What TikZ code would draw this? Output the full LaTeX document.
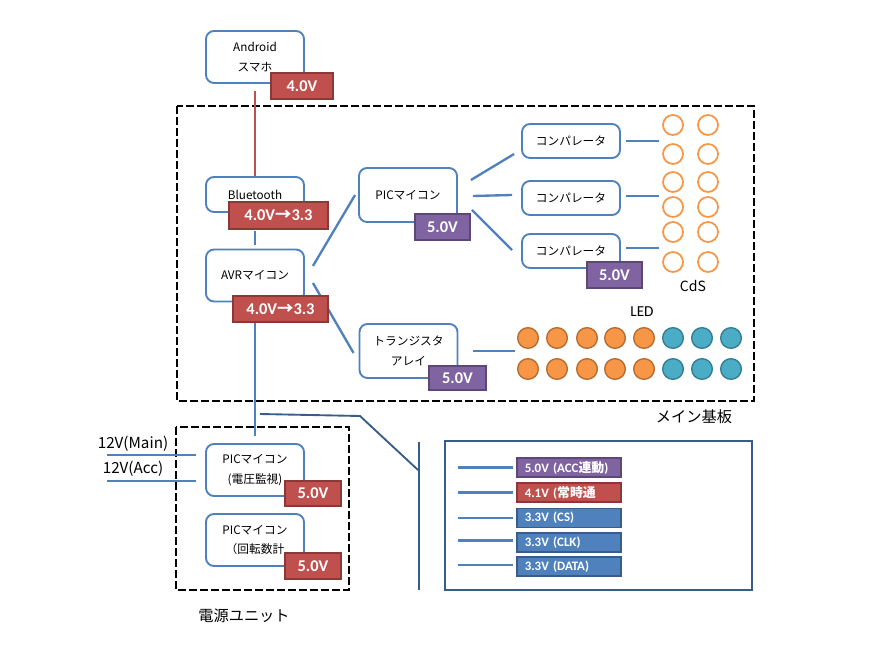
\documentclass[tikz,border=0pt]{standalone}
\usepackage{fontspec}
\setmainfont{Carlito}
\newfontfamily\jp{Noto Sans CJK JP}
\definecolor{boxblue}{RGB}{79,129,189}
\definecolor{darkblue}{RGB}{56,93,138}
\definecolor{vred}{RGB}{192,80,77}
\definecolor{vredline}{RGB}{140,56,54}
\definecolor{vpurple}{RGB}{128,100,162}
\definecolor{vpurpleline}{RGB}{92,71,118}
\definecolor{ledorange}{RGB}{247,150,70}
\definecolor{ledorangeline}{RGB}{182,109,49}
\definecolor{ledblue}{RGB}{75,172,198}
\definecolor{ledblueline}{RGB}{53,125,145}

\begin{document}
\begin{tikzpicture}[x=0.3mm,y=-0.3mm,inner sep=0pt]
\tikzstyle{box}=[rectangle, rounded corners=2.4mm, draw=boxblue, line width=1.6pt, fill=white, minimum width=29.4mm, minimum height=15.6mm, align=center, font=\jp\fontsize{10}{16.5}\selectfont]
\tikzstyle{volt}=[rectangle, line width=1.5pt, text=white, minimum height=7.8mm, font=\bfseries\fontsize{14}{14}\selectfont]
\tikzstyle{legend}=[rectangle, line width=1.3pt, text=white, minimum height=5.7mm, text width=26.4mm, inner xsep=2.4mm, align=left, anchor=west, font=\bfseries\fontsize{11}{11}\selectfont]
\tikzstyle{redv}=[fill=vred, draw=vredline]
\tikzstyle{purplev}=[fill=vpurple, draw=vpurpleline]
\tikzstyle{bluev}=[fill=boxblue, draw=darkblue]
\tikzstyle{link}=[draw=boxblue, line width=2pt]
\tikzstyle{feed}=[draw=vred, line width=1.5pt]
\tikzstyle{bus}=[draw=darkblue, line width=1.6pt]
\tikzstyle{frame}=[draw=black, line width=2pt, dash pattern=on 2.4mm off 0.9mm]
\tikzstyle{cds}=[circle, draw=ledorange, line width=1.5pt, fill=white, minimum size=6mm]
\tikzstyle{ledo}=[circle, draw=ledorangeline, line width=1.2pt, fill=ledorange, minimum size=6.2mm]
\tikzstyle{ledb}=[circle, draw=ledblueline, line width=1.2pt, fill=ledblue, minimum size=6.2mm]
\useasboundingbox (0,0) rectangle (869,652);
% frames
\draw[frame] (177,106) rectangle (754,401);
\draw[frame] (176,427) rectangle (349,590);
\draw[bus] (445,441) rectangle (752,590);
\node[font=\jp\fontsize{13}{13}\selectfont] (mainlbl) at (694,417) {メイン基板};
\node[font=\jp\fontsize{13}{13}\selectfont] (powerlbl) at (244,616) {電源ユニット};
% boxes
\node[box] (and) at (255,57) {Android\\スマホ};
\node[box,minimum height=10.5mm] (bt) at (255,194.5) {Bluetooth};
\node[box] (avr) at (255,275.5) {AVRマイコン};
\node[box,minimum height=16.2mm] (pic) at (408,195) {PICマイコン};
\node[box,minimum height=10.2mm] (cmpa) at (571,141) {コンパレータ};
\node[box,minimum height=10.2mm] (cmpb) at (571,198) {コンパレータ};
\node[box,minimum height=10.2mm] (cmpc) at (571,251) {コンパレータ};
\node[box,minimum height=16.2mm] (tra) at (408.5,351) {トランジスタ\\アレイ};
\node[box] (pwa) at (255,470) {PICマイコン\\(電圧監視)};
\node[box] (pwb) at (255,540) {PICマイコン\\（回転数計};
% sensors and leds
\foreach \y in {125,154,182,207,232,262}
  \foreach \x in {673,708}
    \node[cds] (cds-\x-\y) at (\x,\y) {};
\foreach \y in {338,369} {
  \foreach \x in {528,557,587,615,644}
    \node[ledo] (led-\x-\y) at (\x,\y) {};
  \foreach \x in {673,702,731}
    \node[ledb] (led-\x-\y) at (\x,\y) {};
}
\node[font=\jp\fontsize{12}{12}\selectfont] (cdslbl) at (693,286) {CdS};
\node[font=\fontsize{13}{13}\selectfont] (ledlbl) at (642,312) {LED};
\node[font=\jp\fontsize{13}{13}\selectfont] (mainv) at (133,444) {12V(Main)};
\node[font=\jp\fontsize{13}{13}\selectfont] (accv) at (133,469) {12V(Acc)};
% free ends
\coordinate (cdsa) at (659,141);
\coordinate (cdsb) at (659,196);
\coordinate (cdsc) at (659,248);
\coordinate (ledin) at (515,351);
\coordinate (mainin) at (107,455);
\coordinate (accin) at (107,481);
\coordinate (busa) at (260,414);
\coordinate (busb) at (360,416);
\coordinate (busc) at (418,470);
\coordinate (bara) at (419,442);
\coordinate (barb) at (419,590);
% connectors
\path (and) edge[feed,shorten <=2.1mm] (bt);
\path (bt) edge[link,shorten <=5.4mm,shorten >=1.2mm] (avr);
\path (avr) edge[link,shorten <=6mm,shorten >=2.1mm] (pwa);
\draw[link] ([shift={(8,-9.5)}]avr.east) -- ([shift={(-3,0)}]pic.west);
\draw[link] ([shift={(8,7.5)}]avr.east) -- ([shift={(-5,2)}]tra.west);
\draw[link] ([shift={(13,-15)}]pic.east) -- ([shift={(-7,13)}]cmpa.west);
\draw[link] ([shift={(15,1)}]pic.east) -- ([shift={(-9,-3)}]cmpb.west);
\draw[link] ([shift={(14,15)}]pic.east) -- ([shift={(-9,-1)}]cmpc.west);
\draw[link,shorten <=1.5mm] (cmpa.east |- cdsa) -- (cdsa);
\draw[link,shorten <=1.5mm] (cmpb.east |- cdsb) -- (cdsb);
\draw[link,shorten <=1.5mm] (cmpc.east |- cdsc) -- (cdsc);
\draw[link,shorten <=4.5mm] (tra.east |- ledin) -- (ledin);
\draw[link,shorten >=2.7mm] (mainin) -- (pwa.west |- mainin);
\draw[link,shorten >=2.7mm] (accin) -- (pwa.west |- accin);
\draw[bus] (busa) -- (busb) -- (busc);
\draw[bus] (bara) -- (barb);
% voltages
\node[volt,redv,minimum width=18.6mm] (andv) at (302,86) {4.0V};
\node[volt,redv,minimum width=29.7mm,minimum height=8.1mm] (btv) at (278.5,215.5) {4.0V{\jp →}3.3};
\node[volt,redv,minimum width=28.5mm] (avrv) at (280.5,309) {4.0V{\jp →}3.3};
\node[volt,purplev,minimum width=16.5mm] (picv) at (442.5,227) {5.0V};
\node[volt,purplev,minimum width=16.5mm] (cmpv) at (614.5,275) {5.0V};
\node[volt,purplev,minimum width=17.1mm,minimum height=7.2mm] (trav) at (457.5,378) {5.0V};
\node[volt,redv,minimum width=16.8mm,minimum height=7.5mm] (pwav) at (313,493.5) {5.0V};
\node[volt,redv,minimum width=16.8mm] (pwbv) at (313,566) {5.0V};
% legend
\node[legend,purplev] (lga) at (516,467.5) {5.0V (ACC{\jp 連動})};
\node[legend,redv] (lgb) at (516,492.5) {4.1V ({\jp 常時通}};
\node[legend,bluev] (lgc) at (516,518) {3.3V (CS)};
\node[legend,bluev] (lgd) at (516,542.5) {3.3V (CLK)};
\node[legend,bluev] (lge) at (516,566.5) {3.3V (DATA)};
\coordinate (lina) at (458,467.5);
\coordinate (linb) at (458,492.5);
\coordinate (linc) at (458,518);
\coordinate (lind) at (458,540.5);
\coordinate (line) at (458,565);
\draw[link,shorten >=0.9mm] (lina) -- (lga.west);
\draw[link,shorten >=0.9mm] (linb) -- (lgb.west);
\draw[link,shorten >=0.9mm] (linc) -- (lgc.west);
\draw[link,shorten >=0.9mm] (lind) -- (lgd.west |- lind);
\draw[link,shorten >=0.9mm] (line) -- (lge.west |- line);
\end{tikzpicture}
\end{document}
